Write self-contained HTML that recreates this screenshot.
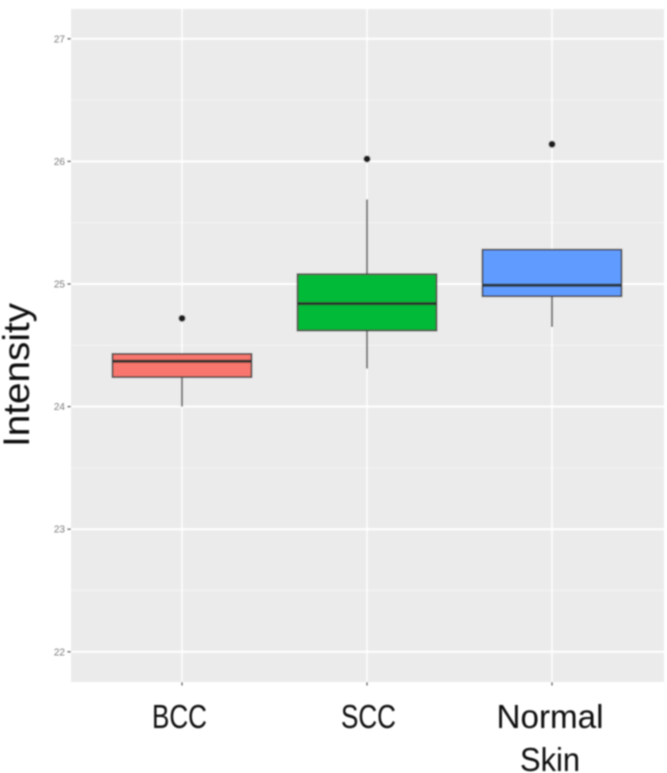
<!DOCTYPE html>
<html lang="en">
<head>
<meta charset="utf-8">
<title>Intensity box plot</title>
<style>
html,body{margin:0;padding:0;background:#fff;}
body{width:667px;height:773px;overflow:hidden;}
svg{display:block;}
text{font-family:"Liberation Sans",sans-serif;}
</style>
</head>
<body>
<svg id="chart" xmlns="http://www.w3.org/2000/svg" width="667" height="773" viewBox="0 0 667 773">
<defs>
<filter id="soft" x="-5%" y="-5%" width="110%" height="110%"><feGaussianBlur stdDeviation="0.7"/></filter>
</defs>
<g id="plot" filter="url(#soft)"></g>
</svg>
<script>
const categories = ['BCC', 'SCC', 'Normal Skin'];
const categoryLines = [['BCC'], ['SCC'], ['Normal', 'Skin']];
const yTicks = [22, 23, 24, 25, 26, 27];
const yMinorTicks = [22.5, 23.5, 24.5, 25.5, 26.5];
const whiskerLow = [24.0, 24.31, 24.65];
const q1 = [24.24, 24.62, 24.90];
const median = [24.37, 24.84, 24.99];
const q3 = [24.43, 25.08, 25.28];
const whiskerHigh = [24.43, 25.69, 25.28];
const outliers = [24.72, 26.02, 26.14];
const fills = ['#F8766D', '#00BA38', '#619CFF'];

const panelLeft = 71, panelRight = 664, panelTop = 9, panelBottom = 682;
const NS = 'http://www.w3.org/2000/svg';
const plot = document.getElementById('plot');

function xPos(i) { return 182 + i * 185; }
function yPos(v) { return 284 - (v - 25) * 122.6; }
const boxWidth = 139;

function make(tag, attrs, text) {
  const el = document.createElementNS(NS, tag);
  for (const k in attrs) el.setAttribute(k, attrs[k]);
  if (text !== undefined) el.textContent = text;
  plot.appendChild(el);
  return el;
}

const panel = make('rect', {x: panelLeft, y: panelTop, width: panelRight - panelLeft, height: panelBottom - panelTop, fill: '#ebebeb'});



yMinorTicks.forEach(function (v) {
  const el = make('line', {x1: panelLeft, x2: panelRight, y1: yPos(v), y2: yPos(v), stroke: '#f3f3f3', 'stroke-width': 1.2});
  
  
});

yTicks.forEach(function (v) {
  const grid = make('line', {x1: panelLeft, x2: panelRight, y1: yPos(v), y2: yPos(v), stroke: '#fff', 'stroke-width': 2});
  
  
  const tick = make('line', {x1: 67.5, x2: panelLeft, y1: yPos(v), y2: yPos(v), stroke: '#555', 'stroke-width': 1.2});
  
  
  const label = make('text', {x: 65, y: yPos(v) + 3.5, 'text-anchor': 'end', 'font-size': 10, fill: '#7a7a7a'}, String(v));
  
  
});

categories.forEach(function (c, i) {
  const x = xPos(i);
  const grid = make('line', {x1: x, x2: x, y1: panelTop, y2: panelBottom, stroke: '#fff', 'stroke-width': 1.5});
  
  
  const tick = make('line', {x1: x, x2: x, y1: panelBottom, y2: panelBottom + 3.5, stroke: '#555', 'stroke-width': 1.2});
  
  
});

categories.forEach(function (c, i) {
  const x = xPos(i);
  const upper = make('line', {x1: x, x2: x, y1: yPos(whiskerHigh[i]), y2: yPos(q3[i]), stroke: '#666', 'stroke-width': 1.8});
  
  
  const lower = make('line', {x1: x, x2: x, y1: yPos(q1[i]), y2: yPos(whiskerLow[i]), stroke: '#666', 'stroke-width': 1.8});
  
  
  const box = make('rect', {x: x - boxWidth / 2, y: yPos(q3[i]), width: boxWidth, height: yPos(q1[i]) - yPos(q3[i]), fill: fills[i], stroke: '#444', 'stroke-width': 1.7});
  
  
  const med = make('line', {x1: x - boxWidth / 2, x2: x + boxWidth / 2, y1: yPos(median[i]), y2: yPos(median[i]), stroke: '#2a332f', 'stroke-width': 3});
  
  
  const pt = make('circle', {cx: x, cy: yPos(outliers[i]), r: 3.5, fill: '#1c1c1c'});
  
  
  categoryLines[i].forEach(function (line, j) {
    const shift = i === 2 ? -2 : (i === 0 ? -2.5 : 1.5);
    const lab = make('text', {x: x + shift, y: 728 + j * 43, 'text-anchor': 'middle', 'font-size': 33, fill: '#0a0a0a', textLength: line === 'Normal' ? 107 : (line === 'Skin' ? 60 : 55), lengthAdjust: 'spacingAndGlyphs'}, line);
    
    
  });
});

const yTitle = make('text', {x: 0, y: 0, transform: 'translate(29,375) rotate(-90)', 'text-anchor': 'middle', 'font-size': 37, fill: '#0a0a0a', textLength: 144, lengthAdjust: 'spacingAndGlyphs'}, 'Intensity');


</script>
</body>
</html>
